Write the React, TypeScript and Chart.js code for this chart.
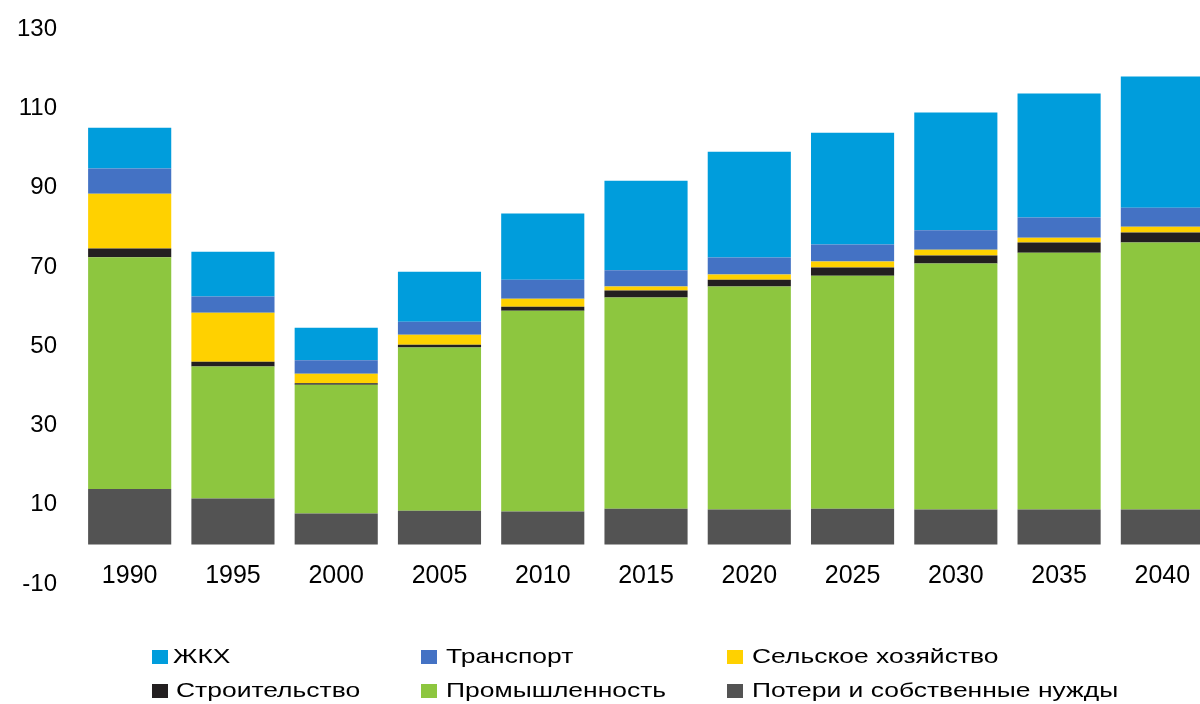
import React, { useEffect, useRef } from 'react';
import { Chart, registerables } from 'chart.js';

Chart.register(...registerables);

const years = ['1990', '1995', '2000', '2005', '2010', '2015', '2020', '2025', '2030', '2035', '2040'];
const losses = [14.0, 11.6, 7.8, 8.5, 8.3, 9.0, 8.8, 9.0, 8.8, 8.8, 8.8];
const industry = [58.5, 33.3, 32.5, 41.2, 50.7, 53.3, 56.3, 58.8, 62.1, 64.8, 67.4];
const construction = [2.2, 1.2, 0.4, 0.7, 1.0, 1.8, 1.7, 2.1, 2.0, 2.6, 2.5];
const agriculture = [13.8, 12.4, 2.4, 2.5, 2.0, 1.0, 1.3, 1.5, 1.5, 1.2, 1.5];
const transport = [6.4, 4.1, 3.4, 3.3, 4.8, 4.1, 4.3, 4.3, 4.9, 5.1, 4.8];
const zhkh = [10.3, 11.3, 8.2, 12.6, 16.7, 22.6, 26.7, 28.2, 29.7, 31.3, 33.1];
const yTicks = [-10, 10, 30, 50, 70, 90, 110, 130];

const seriesNames = ['ЖКХ', 'Транспорт', 'Сельское хозяйство', 'Строительство', 'Промышленность', 'Потери и собственные нужды'];
const seriesColors = ['#009DDC', '#4472C4', '#FFD100', '#231F20', '#8DC63F', '#535353'];

const FONT = "'Liberation Sans', Arial, sans-serif";

const legendLayout = [
  { left: 152, top: 644, textLeft: 173 },
  { left: 421, top: 644, textLeft: 446 },
  { left: 727, top: 644, textLeft: 752 },
  { left: 152, top: 678, textLeft: 176 },
  { left: 421, top: 678, textLeft: 446 },
  { left: 727, top: 678, textLeft: 752 },
];

export default function App() {
  const canvasRef = useRef<HTMLCanvasElement | null>(null);

  useEffect(() => {
    const canvas = canvasRef.current;
    if (!canvas) return;
    const stackValues = [losses, industry, construction, agriculture, transport, zhkh];
    const stackNames = [seriesNames[5], seriesNames[4], seriesNames[3], seriesNames[2], seriesNames[1], seriesNames[0]];
    const stackColors = [seriesColors[5], seriesColors[4], seriesColors[3], seriesColors[2], seriesColors[1], seriesColors[0]];
    const chart = new Chart(canvas, {
      type: 'bar',
      data: {
        labels: years,
        datasets: stackValues.map((vals, i) => ({
          label: stackNames[i],
          data: vals,
          backgroundColor: stackColors[i],
          borderWidth: 0,
          barPercentage: 0.805,
          categoryPercentage: 1,
        })),
      },
      options: {
        responsive: false,
        animation: false,
        layout: { padding: { left: 17, top: 21, right: 18, bottom: 114 } },
        plugins: { legend: { display: false }, tooltip: { enabled: false } },
        scales: {
          x: {
            stacked: true,
            position: { y: 0 } as any,
            grid: { display: false, drawTicks: false },
            border: { display: false },
            ticks: { color: '#000', padding: 17, font: { family: FONT, size: 25 }, maxRotation: 0 },
          },
          y: {
            stacked: true,
            min: -10,
            max: 130,
            grid: { display: false, drawTicks: false },
            border: { display: false },
            afterBuildTicks: (scale: any) => {
              scale.ticks = yTicks.map((v) => ({ value: v }));
            },
            ticks: { color: '#000', padding: 21, font: { family: FONT, size: 24 } },
          },
        },
      },
    });
    return () => chart.destroy();
  }, []);

  return (
    <div style={{ position: 'fixed', left: 0, top: 0, width: 1200, height: 704, overflow: 'hidden', background: '#fff' }}>
      <canvas ref={canvasRef} width={1253} height={704} style={{ position: 'absolute', left: -21, top: -6, width: 1253, height: 704 }} />
      {seriesNames.map((name, i) => (
        <div
          key={name}
          style={{ position: 'absolute', left: 0, top: legendLayout[i].top, height: 24, whiteSpace: 'nowrap', fontFamily: FONT, fontSize: 21, lineHeight: '24px', color: '#000' }}
        >
          <span style={{ position: 'absolute', left: legendLayout[i].left, top: 6, width: 16, height: 14, background: seriesColors[i] }} />
          <span style={{ position: 'absolute', left: legendLayout[i].textLeft, top: 0, display: 'inline-block', transform: 'scaleX(1.26)', transformOrigin: 'left center' }}>{name}</span>
        </div>
      ))}
    </div>
  );
}
